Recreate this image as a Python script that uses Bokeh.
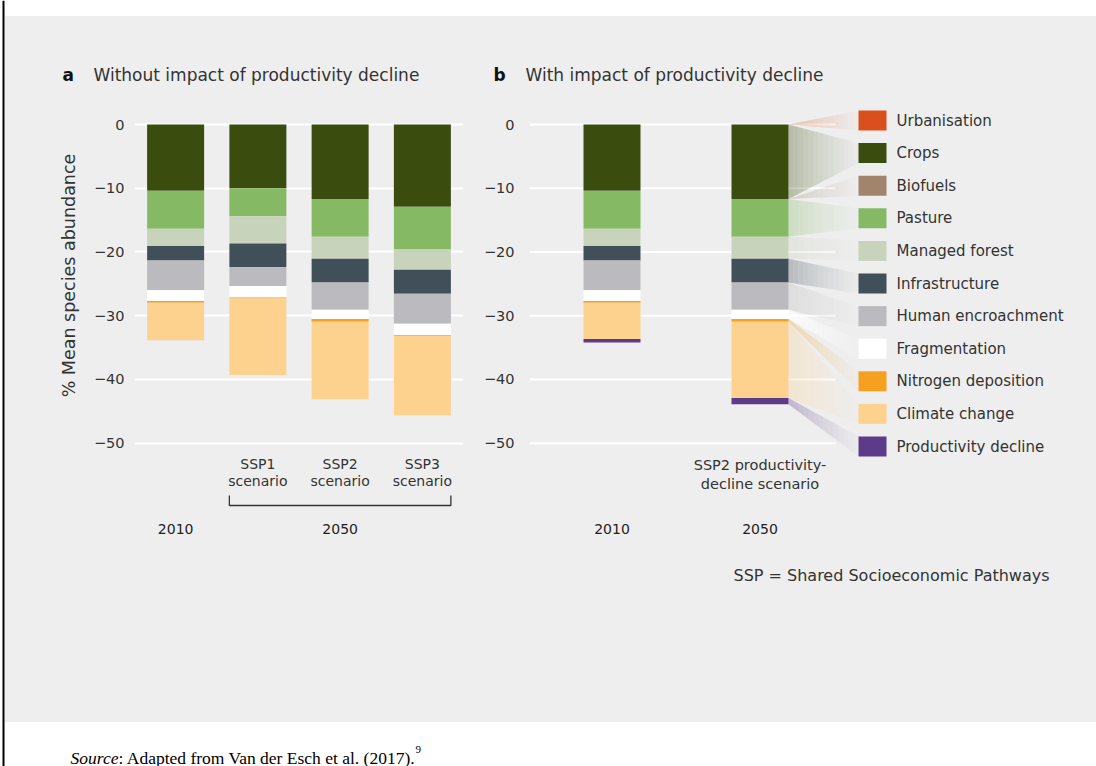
import numpy as np
from bokeh.plotting import figure
from bokeh.models import Range1d, FixedTicker, ColumnDataSource
from bokeh.layouts import column, row
from bokeh.embed import file_html
from bokeh.resources import INLINE
from bokeh.core.properties import value

# ---------------- data ----------------
pressures = ["Urbanisation", "Crops", "Biofuels", "Pasture", "Managed forest",
             "Infrastructure", "Human encroachment", "Fragmentation",
             "Nitrogen deposition", "Climate change", "Productivity decline"]
colors = ["#d9501e", "#3a4d0f", "#a0856c", "#86b964", "#c8d3bc", "#414f58",
          "#bbbabe", "#ffffff", "#f5a01f", "#fdd28f", "#5e3a8a"]

# Panel a: without productivity decline (loss in % MSA, per pressure)
cats_a = ["2010", "SSP1", "SSP2", "SSP3"]
urbanisation_a = [0.0, 0.0, 0.0, 0.0]
crops_a = [10.4, 10.0, 11.7, 12.9]
biofuels_a = [0.0, 0.0, 0.0, 0.0]
pasture_a = [5.95, 4.4, 5.9, 6.7]
managed_forest_a = [2.7, 4.25, 3.45, 3.2]
infrastructure_a = [2.3, 3.7, 3.75, 3.75]
human_encroachment_a = [4.65, 3.0, 4.25, 4.7]
fragmentation_a = [1.7, 1.8, 1.45, 1.8]
nitrogen_a = [0.25, 0.15, 0.45, 0.15]
climate_a = [5.9, 12.0, 12.15, 12.4]
productivity_a = [0.0, 0.0, 0.0, 0.0]

# Panel b: with productivity decline
cats_b = ["2010", "2050"]
urbanisation_b = [0.0, 0.0]
crops_b = [10.4, 11.7]
biofuels_b = [0.0, 0.0]
pasture_b = [5.95, 5.9]
managed_forest_b = [2.7, 3.45]
infrastructure_b = [2.3, 3.75]
human_encroachment_b = [4.65, 4.25]
fragmentation_b = [1.7, 1.45]
nitrogen_b = [0.25, 0.45]
climate_b = [5.7, 11.95]
productivity_b = [0.55, 1.0]

scenario_labels_a = ["SSP1", "SSP2", "SSP3"]
year_labels = ["2010", "2050"]
y_ticks = [0, -10, -20, -30, -40, -50]

# ---------------- styling / geometry ----------------
BG = "#eeeeee"
FONT = "DejaVu Sans"
TXT = "#333333"
PX = 6.374      # pixels per % unit
Y0 = 124.0      # page y of value 0


def vy(py):
    return (Y0 - py) / PX


def vx_b(px):
    return (px - 611.5) / 148.0


tick_over = {t: ("0" if t == 0 else "\u2212%d" % abs(t)) for t in y_ticks}


def stack(arrs):
    v = np.array(arrs, dtype=float)
    cum = np.cumsum(v, axis=0)
    return v, -(cum - v), -cum


def blank(p):
    p.title = None
    p.xgrid.visible = False
    p.ygrid.visible = False


def style_yaxis(p, standoff):
    p.yaxis.ticker = FixedTicker(ticks=y_ticks)
    p.yaxis.major_label_overrides = tick_over
    p.yaxis.axis_line_color = None
    p.yaxis.major_tick_line_color = None
    p.yaxis.minor_tick_line_color = None
    p.yaxis.major_label_standoff = standoff
    p.yaxis.major_label_text_font = FONT
    p.yaxis.major_label_text_font_size = "14.5px"
    p.yaxis.major_label_text_color = TXT


def txt(p, x, y, t, size="14px", align="center", baseline="alphabetic",
        color=TXT, style="normal", font=FONT):
    p.text(x=x, y=y, text=t, text_align=align, text_baseline=baseline,
           text_font=value(font), text_font_size=value(size),
           text_font_style=style, text_color=color)


def fig(w, h, xr, yr, fill=BG, **kw):
    opts = dict(output_backend="svg", toolbar_location=None, x_axis_location=None,
                background_fill_color=fill, border_fill_color=fill,
                outline_line_color=None, styles={"background-color": fill})
    opts.update(kw)
    return figure(width=w, height=h, x_range=xr, y_range=yr, **opts)


# ---------------- panel titles ----------------
tt = fig(1091, 80, Range1d(5, 1096), Range1d(96, 16), y_axis_location=None, min_border=0)
blank(tt)
txt(tt, [62, 493], [74.3, 74.3], ["a", "b"], size="17px", align="left",
    color="#111111", style="bold")
txt(tt, [93, 525], [74.3, 74.3], ["Without impact of productivity decline",
                                  "With impact of productivity decline"],
    size="17px", align="left")

# ---------------- panel a ----------------
pa = fig(473, 358, Range1d(-0.5, 3.5), Range1d(vy(454), vy(96)),
         min_border_left=129, min_border_right=15, min_border_top=0, min_border_bottom=0)
pa.title = None
style_yaxis(pa, 4)
pa.yaxis.axis_label = "% Mean species abundance"
pa.yaxis.axis_label_text_font = FONT
pa.yaxis.axis_label_text_font_size = "17.5px"
pa.yaxis.axis_label_text_font_style = "normal"
pa.yaxis.axis_label_text_color = TXT
pa.yaxis.axis_label_standoff = 12
pa.xgrid.visible = False
pa.ygrid.ticker = FixedTicker(ticks=y_ticks)
pa.ygrid.grid_line_color = "white"
pa.ygrid.grid_line_width = 2

va, tpa, bta = stack([urbanisation_a, crops_a, biofuels_a, pasture_a, managed_forest_a,
                      infrastructure_a, human_encroachment_a, fragmentation_a,
                      nitrogen_a, climate_a, productivity_a])
xa = list(range(len(cats_a)))
wa = 0.693
for i in range(len(pressures)):
    src = ColumnDataSource(dict(x=xa, top=tpa[i], bottom=bta[i]))
    pa.vbar(x="x", width=wa, top="top", bottom="bottom", source=src,
            fill_color=colors[i], line_color=None)

ba_fig = fig(473, 268, pa.x_range, Range1d(vy(722), vy(454)), y_axis_location=None,
             min_border_left=129, min_border_right=15, min_border_top=0, min_border_bottom=0)
blank(ba_fig)
txt(ba_fig, xa[1:], [vy(463)] * 3, scenario_labels_a)
txt(ba_fig, xa[1:], [vy(480)] * 3, ["scenario"] * 3)
txt(ba_fig, [0, 2], [vy(528)] * 2, year_labels, color="#222222")
xl, xr = 1 - wa / 2, 3 + wa / 2
ba_fig.line(x=[xl, xl, xr, xr], y=[vy(495), vy(505), vy(505), vy(495)],
            line_color="#333333", line_width=1.3)

# ---------------- panel b ----------------
pb = fig(618, 626, Range1d(vx_b(529), vx_b(1096)), Range1d(vy(722), vy(96)),
         min_border_left=51, min_border_right=0, min_border_top=0, min_border_bottom=0)
pb.title = None
style_yaxis(pb, 9)
pb.xgrid.visible = False
pb.ygrid.visible = False
pb.segment(x0=[vx_b(529)] * len(y_ticks), y0=y_ticks,
           x1=[vx_b(835)] * len(y_ticks), y1=y_ticks,
           line_color="white", line_width=2)

vb, tpb, btb = stack([urbanisation_b, crops_b, biofuels_b, pasture_b, managed_forest_b,
                      infrastructure_b, human_encroachment_b, fragmentation_b,
                      nitrogen_b, climate_b, productivity_b])
xb = list(range(len(cats_b)))
wb = 57.0 / 148.0

# legend geometry
leg_x = vx_b(872)
leg_w = 28.0 / 148.0
leg_h = 20.0 / PX
leg_y = [vy(120 + 32.6 * i) for i in range(len(pressures))]

# connector fans from the 2050 bar to the legend
x_start = 1 + wb / 2
x_end = leg_x - leg_w / 2
n_sl = 14
fx, fy, fc, fa = [], [], [], []
for i in range(len(pressures)):
    s_top, s_bot = tpb[i][1], btb[i][1]
    p_top, p_bot = leg_y[i] + leg_h / 2, leg_y[i] - leg_h / 2
    for k in range(n_sl):
        t0, t1 = k / n_sl, (k + 1) / n_sl
        xa0 = x_start + (x_end - x_start) * t0
        xa1 = x_start + (x_end - x_start) * t1
        top0 = s_top + (p_top - s_top) * t0
        top1 = s_top + (p_top - s_top) * t1
        bot0 = s_bot + (p_bot - s_bot) * t0
        bot1 = s_bot + (p_bot - s_bot) * t1
        fx.append([xa0, xa1, xa1, xa0])
        fy.append([top0, top1, bot1, bot0])
        fc.append(colors[i])
        tm = (t0 + t1) / 2
        a = 0.30 * (1 - tm) ** 1.3 + 0.02
        if colors[i] == "#ffffff":
            a = 0.7 * (1 - tm) + 0.05
        fa.append(a)
pb.patches(xs="xs", ys="ys", fill_color="c", fill_alpha="a", line_color=None,
           source=ColumnDataSource(dict(xs=fx, ys=fy, c=fc, a=fa)))

for i in range(len(pressures)):
    src = ColumnDataSource(dict(x=xb, top=tpb[i], bottom=btb[i]))
    pb.vbar(x="x", width=wb, top="top", bottom="bottom", source=src,
            fill_color=colors[i], line_color=None)

pb.rect(x=[leg_x] * len(pressures), y=leg_y, width=leg_w, height=leg_h,
        fill_color=colors, line_color=None)
txt(pb, [vx_b(896)] * len(pressures), leg_y, pressures, size="15px",
    align="left", baseline="middle")

txt(pb, [1, 1], [vy(464), vy(483)], ["SSP2 productivity-", "decline scenario"], size="14.5px")
txt(pb, xb, [vy(528)] * 2, year_labels, color="#222222")
txt(pb, [vx_b(733)], [vy(575)], ["SSP = Shared Socioeconomic Pathways"],
    size="16px", align="left")

# ---------------- white surroundings ----------------
top = fig(1091, 16, Range1d(0, 1), Range1d(0, 1), fill="white",
          y_axis_location=None, min_border=0)
blank(top)

strip = fig(5, 766, Range1d(0, 5), Range1d(766, 0), fill="white",
            y_axis_location=None, min_border=0)
blank(strip)
strip.quad(left=[2], right=[4], top=[0], bottom=[766], fill_color="black", line_color=None)

ps = fig(1091, 44, Range1d(5, 1096), Range1d(766, 722), fill="white",
         y_axis_location=None, min_border=0)
blank(ps)
txt(ps, [70], [757], ["Source"], size="17.5px", align="left", color="black",
    style="italic", font="Liberation Serif")
txt(ps, [118], [757], [": Adapted from Van der Esch et al. (2017)."], size="17.5px",
    align="left", color="black", font="Liberation Serif")
txt(ps, [415], [749], ["9"], size="11px", align="left", color="black",
    font="Liberation Serif")

panels = row(column(pa, ba_fig, styles={"background-color": BG}), pb,
             styles={"background-color": BG})
layout = row(strip, column(top, tt, panels, ps))
open("out.html", "w").write(file_html(layout, INLINE))
